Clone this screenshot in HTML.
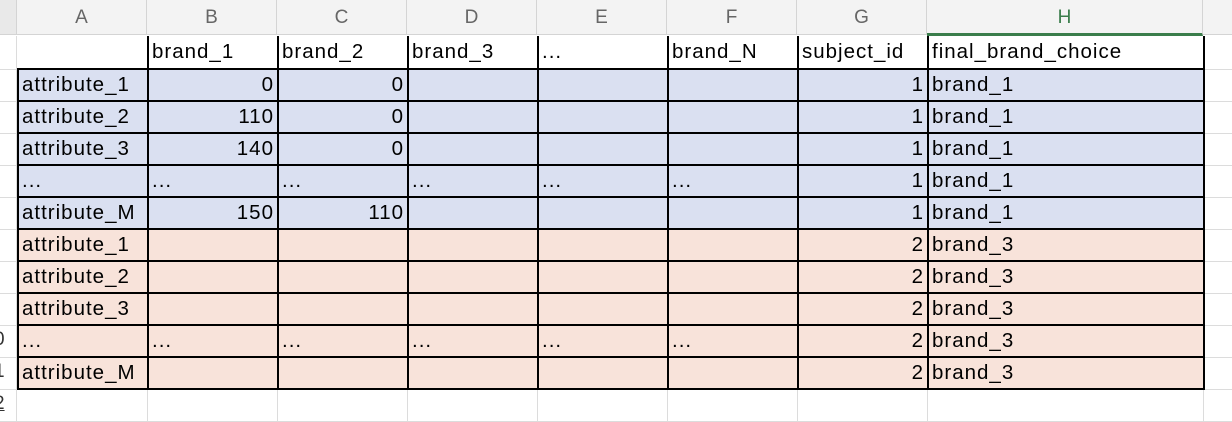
<!DOCTYPE html>
<html><head><meta charset="utf-8"><style>
body{margin:0;width:1232px;height:422px;overflow:hidden;background:#fff;font-family:"Liberation Sans",sans-serif;position:relative}
.hdr{position:absolute;top:0;height:35px;background:#f3f3f3;border-right:1px solid #d4d4d4;border-bottom:1px solid #d4d4d4;box-sizing:border-box;color:#666;font-size:19px;text-align:center;line-height:36px}
.vl{position:absolute;width:1px;background:#dcdcdc;top:36px;height:386px}
.hl{position:absolute;height:1px;background:#dcdcdc;left:0;width:1232px}
table{position:absolute;left:17px;top:36px;border-collapse:collapse;font-size:20.5px;letter-spacing:1px;color:#000;table-layout:fixed}
td{height:32px;padding:0 3px;border:2px solid #000;box-sizing:border-box;white-space:nowrap;overflow:hidden;line-height:28px}
td.n{text-align:right}
tr.b td{background:#dae0f1}
tr.p td{background:#f8e3da}
.rn{position:absolute;left:-6px;font-size:19px;color:#333}
</style></head><body>
<div class="hdr" style="left:0;width:17px;background:#e9e9e9"></div>
<div class="hdr" style="left:17px;width:130px">A</div>
<div class="hdr" style="left:147px;width:130px">B</div>
<div class="hdr" style="left:277px;width:130px">C</div>
<div class="hdr" style="left:407px;width:130px">D</div>
<div class="hdr" style="left:537px;width:130px">E</div>
<div class="hdr" style="left:667px;width:130px">F</div>
<div class="hdr" style="left:797px;width:130px">G</div>
<div class="hdr" style="left:927px;width:276px;color:#3a7d4b;border-bottom:3px solid #3a7d4b;height:36px">H</div>
<div class="hdr" style="left:1203px;width:29px;border-right:none"></div>
<div class="vl" style="left:16px"></div><div class="vl" style="left:147px"></div><div class="vl" style="left:277px"></div><div class="vl" style="left:407px"></div><div class="vl" style="left:537px"></div><div class="vl" style="left:667px"></div><div class="vl" style="left:797px"></div><div class="vl" style="left:927px"></div><div class="vl" style="left:1203px"></div>
<div class="hl" style="top:69px"></div><div class="hl" style="top:101px"></div><div class="hl" style="top:133px"></div><div class="hl" style="top:165px"></div><div class="hl" style="top:197px"></div><div class="hl" style="top:229px"></div><div class="hl" style="top:261px"></div><div class="hl" style="top:293px"></div><div class="hl" style="top:325px"></div><div class="hl" style="top:357px"></div><div class="hl" style="top:389px"></div><div class="hl" style="top:421px"></div>
<div class="rn" style="top:329px">0</div><div class="rn" style="top:361px">1</div><div class="rn" style="top:393px;text-decoration:underline">2</div>
<table>
<colgroup><col style="width:130px"><col style="width:130px"><col style="width:130px"><col style="width:130px"><col style="width:130px"><col style="width:130px"><col style="width:130px"><col style="width:276px"></colgroup>
<tr><td style="border-top:none;border-left:none;height:33px"></td><td style="border-top:none;height:33px">brand_1</td><td style="border-top:none">brand_2</td><td style="border-top:none">brand_3</td><td style="border-top:none">...</td><td style="border-top:none">brand_N</td><td style="border-top:none">subject_id</td><td style="border-top:none">final_brand_choice</td></tr>
<tr class="b"><td>attribute_1</td><td class="n">0</td><td class="n">0</td><td></td><td></td><td></td><td class="n">1</td><td>brand_1</td></tr>
<tr class="b"><td>attribute_2</td><td class="n">110</td><td class="n">0</td><td></td><td></td><td></td><td class="n">1</td><td>brand_1</td></tr>
<tr class="b"><td>attribute_3</td><td class="n">140</td><td class="n">0</td><td></td><td></td><td></td><td class="n">1</td><td>brand_1</td></tr>
<tr class="b"><td>...</td><td>...</td><td>...</td><td>...</td><td>...</td><td>...</td><td class="n">1</td><td>brand_1</td></tr>
<tr class="b"><td>attribute_M</td><td class="n">150</td><td class="n">110</td><td></td><td></td><td></td><td class="n">1</td><td>brand_1</td></tr>
<tr class="p"><td>attribute_1</td><td></td><td></td><td></td><td></td><td></td><td class="n">2</td><td>brand_3</td></tr>
<tr class="p"><td>attribute_2</td><td></td><td></td><td></td><td></td><td></td><td class="n">2</td><td>brand_3</td></tr>
<tr class="p"><td>attribute_3</td><td></td><td></td><td></td><td></td><td></td><td class="n">2</td><td>brand_3</td></tr>
<tr class="p"><td>...</td><td>...</td><td>...</td><td>...</td><td>...</td><td>...</td><td class="n">2</td><td>brand_3</td></tr>
<tr class="p"><td>attribute_M</td><td></td><td></td><td></td><td></td><td></td><td class="n">2</td><td>brand_3</td></tr>
</table>
</body></html>
